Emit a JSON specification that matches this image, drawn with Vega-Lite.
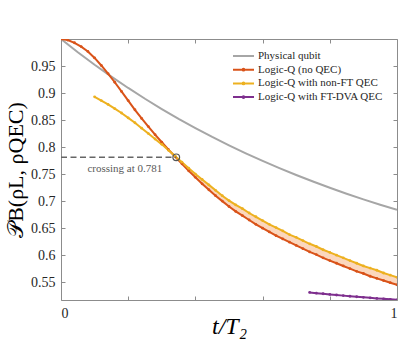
{
  "$schema": "https://vega.github.io/schema/vega-lite/v6.json",
  "width": 336,
  "height": 261,
  "autosize": {"type": "none"},
  "padding": {"left": 61, "top": 39, "right": 18, "bottom": 46},
  "background": "white",
  "config": {
    "font": "Liberation Serif",
    "view": {"stroke": null},
    "axis": {
      "domainColor": "#8c8c8c",
      "tickColor": "#8c8c8c",
      "grid": false,
      "labelFont": "Liberation Serif",
      "labelColor": "#262626",
      "labelFontSize": 14,
      "tickSize": -4,
      "domainWidth": 1,
      "tickWidth": 1
    }
  },
  "datasets": {
    "d": [
      {"t":0,"s":"P","v":1.0},{"t":0.05,"s":"P","v":0.9756},{"t":0.1,"s":"P","v":0.9524},{"t":0.15,"s":"P","v":0.9304},{"t":0.2,"s":"P","v":0.9094},{"t":0.25,"s":"P","v":0.8894},{"t":0.3,"s":"P","v":0.8704},{"t":0.35,"s":"P","v":0.8523},{"t":0.4,"s":"P","v":0.8352},{"t":0.45,"s":"P","v":0.8188},{"t":0.5,"s":"P","v":0.8033},{"t":0.55,"s":"P","v":0.7885},{"t":0.6,"s":"P","v":0.7744},{"t":0.65,"s":"P","v":0.761},{"t":0.7,"s":"P","v":0.7483},{"t":0.75,"s":"P","v":0.7362},{"t":0.8,"s":"P","v":0.7247},{"t":0.85,"s":"P","v":0.7137},{"t":0.9,"s":"P","v":0.7033},{"t":0.95,"s":"P","v":0.6934},{"t":1.0,"s":"P","v":0.6839},
      {"t":0,"s":"R","v":1.0},{"t":0.02,"s":"R","v":0.998},{"t":0.04,"s":"R","v":0.993},{"t":0.06,"s":"R","v":0.986},{"t":0.08,"s":"R","v":0.977},{"t":0.1,"s":"R","v":0.965},{"t":0.12,"s":"R","v":0.951},{"t":0.14,"s":"R","v":0.936},{"t":0.16,"s":"R","v":0.92},{"t":0.18,"s":"R","v":0.903},{"t":0.2,"s":"R","v":0.886},{"t":0.22,"s":"R","v":0.869},{"t":0.24,"s":"R","v":0.853},{"t":0.26,"s":"R","v":0.838},{"t":0.28,"s":"R","v":0.823},{"t":0.3,"s":"R","v":0.809},{"t":0.32,"s":"R","v":0.795},{"t":0.34,"s":"R","v":0.782},{"t":0.36,"s":"R","v":0.769},{"t":0.38,"s":"R","v":0.756},{"t":0.4,"s":"R","v":0.744},{"t":0.42,"s":"R","v":0.732},{"t":0.44,"s":"R","v":0.721},{"t":0.46,"s":"R","v":0.71},{"t":0.48,"s":"R","v":0.7},{"t":0.5,"s":"R","v":0.69},{"t":0.52,"s":"R","v":0.681},{"t":0.54,"s":"R","v":0.673},{"t":0.56,"s":"R","v":0.665},{"t":0.58,"s":"R","v":0.657},{"t":0.6,"s":"R","v":0.65},{"t":0.62,"s":"R","v":0.643},{"t":0.64,"s":"R","v":0.636},{"t":0.66,"s":"R","v":0.63},{"t":0.68,"s":"R","v":0.624},{"t":0.7,"s":"R","v":0.618},{"t":0.72,"s":"R","v":0.612},{"t":0.74,"s":"R","v":0.606},{"t":0.76,"s":"R","v":0.601},{"t":0.78,"s":"R","v":0.595},{"t":0.8,"s":"R","v":0.59},{"t":0.82,"s":"R","v":0.585},{"t":0.84,"s":"R","v":0.58},{"t":0.86,"s":"R","v":0.575},{"t":0.88,"s":"R","v":0.57},{"t":0.9,"s":"R","v":0.566},{"t":0.92,"s":"R","v":0.561},{"t":0.94,"s":"R","v":0.557},{"t":0.96,"s":"R","v":0.553},{"t":0.98,"s":"R","v":0.549},{"t":1.0,"s":"R","v":0.545},
      {"t":0.1,"s":"Y","v":0.893},{"t":0.12,"s":"Y","v":0.886},{"t":0.14,"s":"Y","v":0.879},{"t":0.16,"s":"Y","v":0.871},{"t":0.18,"s":"Y","v":0.863},{"t":0.2,"s":"Y","v":0.854},{"t":0.22,"s":"Y","v":0.845},{"t":0.24,"s":"Y","v":0.835},{"t":0.26,"s":"Y","v":0.825},{"t":0.28,"s":"Y","v":0.815},{"t":0.3,"s":"Y","v":0.805},{"t":0.32,"s":"Y","v":0.794},{"t":0.34,"s":"Y","v":0.783},{"t":0.36,"s":"Y","v":0.772},{"t":0.38,"s":"Y","v":0.761},{"t":0.4,"s":"Y","v":0.75},{"t":0.42,"s":"Y","v":0.74},{"t":0.44,"s":"Y","v":0.73},{"t":0.46,"s":"Y","v":0.72},{"t":0.48,"s":"Y","v":0.71},{"t":0.5,"s":"Y","v":0.701},{"t":0.52,"s":"Y","v":0.693},{"t":0.54,"s":"Y","v":0.686},{"t":0.56,"s":"Y","v":0.678},{"t":0.58,"s":"Y","v":0.671},{"t":0.6,"s":"Y","v":0.664},{"t":0.62,"s":"Y","v":0.657},{"t":0.64,"s":"Y","v":0.651},{"t":0.66,"s":"Y","v":0.645},{"t":0.68,"s":"Y","v":0.638},{"t":0.7,"s":"Y","v":0.633},{"t":0.72,"s":"Y","v":0.627},{"t":0.74,"s":"Y","v":0.621},{"t":0.76,"s":"Y","v":0.616},{"t":0.78,"s":"Y","v":0.61},{"t":0.8,"s":"Y","v":0.605},{"t":0.82,"s":"Y","v":0.6},{"t":0.84,"s":"Y","v":0.595},{"t":0.86,"s":"Y","v":0.59},{"t":0.88,"s":"Y","v":0.585},{"t":0.9,"s":"Y","v":0.58},{"t":0.92,"s":"Y","v":0.576},{"t":0.94,"s":"Y","v":0.572},{"t":0.96,"s":"Y","v":0.567},{"t":0.98,"s":"Y","v":0.563},{"t":1.0,"s":"Y","v":0.559},
      {"t":0.74,"s":"V","v":0.531},{"t":0.76,"s":"V","v":0.5297},{"t":0.78,"s":"V","v":0.5285},{"t":0.8,"s":"V","v":0.5273},{"t":0.82,"s":"V","v":0.5262},{"t":0.84,"s":"V","v":0.5251},{"t":0.86,"s":"V","v":0.524},{"t":0.88,"s":"V","v":0.523},{"t":0.9,"s":"V","v":0.522},{"t":0.92,"s":"V","v":0.521},{"t":0.94,"s":"V","v":0.52},{"t":0.96,"s":"V","v":0.5191},{"t":0.98,"s":"V","v":0.5182},{"t":1.0,"s":"V","v":0.5173}
    ],
    "ann": [
      {"x0": 0, "x1": 0.343, "y": 0.781, "lx": 0.19, "ly": 0.759, "label": "crossing at 0.781"}
    ]
  },
  "layer": [
    {
      "data": {"name": "d"},
      "transform": [
        {"filter": "datum.t >= 0.34 && (datum.s == 'R' || datum.s == 'Y')"},
        {"pivot": "s", "value": "v", "groupby": ["t"]}
      ],
      "mark": {"type": "area", "color": "#fbd7bd", "opacity": 1, "clip": true},
      "encoding": {
        "x": {"field": "t", "type": "quantitative", "scale": {"domain": [0, 1], "nice": false}, "axis": null},
        "y": {"field": "Y", "type": "quantitative", "scale": {"domain": [0.517, 1], "nice": false, "zero": false}, "axis": null},
        "y2": {"field": "R"}
      }
    },
    {
      "data": {"name": "d"},
      "mark": {"type": "line", "strokeWidth": 2, "clip": true},
      "encoding": {
        "x": {
          "field": "t", "type": "quantitative",
          "scale": {"domain": [0, 1], "nice": false},
          "axis": {
            "orient": "bottom",
            "values": [0, 0.2, 0.4, 0.6, 0.8, 1],
            "labelExpr": "datum.value == 0 ? '0' : datum.value == 1 ? '1' : ''",
            "labelPadding": 10,
            "title": "t/T₂",
            "titleFont": "Liberation Serif",
            "titleFontStyle": "italic",
            "titleFontWeight": "normal",
            "titleFontSize": 24,
            "titleColor": "#000000",
            "titlePadding": -6
          }
        },
        "y": {
          "field": "v", "type": "quantitative",
          "scale": {"domain": [0.517, 1], "nice": false, "zero": false},
          "axis": {
            "orient": "left",
            "values": [0.55, 0.6, 0.65, 0.7, 0.75, 0.8, 0.85, 0.9, 0.95],
            "format": ".2~f",
            "labelPadding": 10,
            "title": "𝒫B(ρL, ρQEC)",
            "titleFont": "Liberation Serif",
            "titleFontWeight": "normal",
            "titleFontSize": 22,
            "titleColor": "#000000",
            "titlePadding": 3
          }
        },
        "color": {
          "field": "s", "type": "nominal",
          "scale": {"domain": ["P", "R", "Y", "V"], "range": ["#a6a6a6", "#d95319", "#edb120", "#7e2f8e"]},
          "legend": {
            "orient": "none",
            "legendX": 175.5,
            "legendY": 10,
            "title": null,
            "padding": 0,
            "labelFont": "Liberation Serif",
            "labelFontSize": 11,
            "labelColor": "#262626",
            "symbolSize": 144,
            "symbolStrokeWidth": 2,
            "symbolType": "M-1.75,0H1.75",
            "labelOffset": 7.5,
            "rowPadding": 1.7,
            "labelExpr": "datum.value == 'P' ? 'Physical qubit' : datum.value == 'R' ? 'Logic-Q (no QEC)' : datum.value == 'Y' ? 'Logic-Q with non-FT QEC' : 'Logic-Q with FT-DVA QEC'",
            "encode": {
              "symbols": {
                "update": {
                  "shape": {"signal": "datum.value == 'P' ? 'M-1.75,0H1.75' : 'M-1.75,0H1.75M-0.14,0A0.14,0.14,0,1,0,0.14,0A0.14,0.14,0,1,0,-0.14,0'"}
                }
              }
            }
          }
        }
      }
    },
    {
      "data": {"name": "d"},
      "transform": [{"filter": "datum.s != 'P'"}],
      "mark": {"type": "point", "filled": true, "size": 8, "opacity": 1, "clip": true},
      "encoding": {
        "x": {"field": "t", "type": "quantitative", "scale": {"domain": [0, 1], "nice": false}, "axis": null},
        "y": {"field": "v", "type": "quantitative", "scale": {"domain": [0.517, 1], "nice": false, "zero": false}, "axis": null},
        "color": {
          "field": "s", "type": "nominal",
          "scale": {"domain": ["P", "R", "Y", "V"], "range": ["#a6a6a6", "#d95319", "#edb120", "#7e2f8e"]},
          "legend": null
        }
      }
    },
    {
      "data": {"name": "ann"},
      "mark": {"type": "rule", "strokeDash": [6, 3.5], "strokeWidth": 1.5, "color": "#666666"},
      "encoding": {
        "x": {
          "field": "x0", "type": "quantitative",
          "scale": {"domain": [0, 1], "nice": false},
          "axis": {"orient": "top", "values": [0, 0.2, 0.4, 0.6, 0.8, 1], "labels": false, "title": null}
        },
        "x2": {"field": "x1"},
        "y": {
          "field": "y", "type": "quantitative",
          "scale": {"domain": [0.517, 1], "nice": false, "zero": false},
          "axis": {"orient": "right", "values": [0.55, 0.6, 0.65, 0.7, 0.75, 0.8, 0.85, 0.9, 0.95], "labels": false, "title": null}
        }
      }
    },
    {
      "data": {"name": "ann"},
      "mark": {"type": "point", "shape": "circle", "filled": false, "size": 45, "strokeWidth": 1.2, "color": "#555555", "opacity": 1},
      "encoding": {
        "x": {"field": "x1", "type": "quantitative", "scale": {"domain": [0, 1], "nice": false}, "axis": null},
        "y": {"field": "y", "type": "quantitative", "scale": {"domain": [0.517, 1], "nice": false, "zero": false}, "axis": null}
      }
    },
    {
      "data": {"name": "ann"},
      "mark": {"type": "text", "font": "Liberation Serif", "fontSize": 11, "color": "#595959"},
      "encoding": {
        "x": {"field": "lx", "type": "quantitative", "scale": {"domain": [0, 1], "nice": false}, "axis": null},
        "y": {"field": "ly", "type": "quantitative", "scale": {"domain": [0.517, 1], "nice": false, "zero": false}, "axis": null},
        "text": {"field": "label"}
      }
    }
  ],
  "resolve": {"axis": {"x": "independent", "y": "independent"}}
}
